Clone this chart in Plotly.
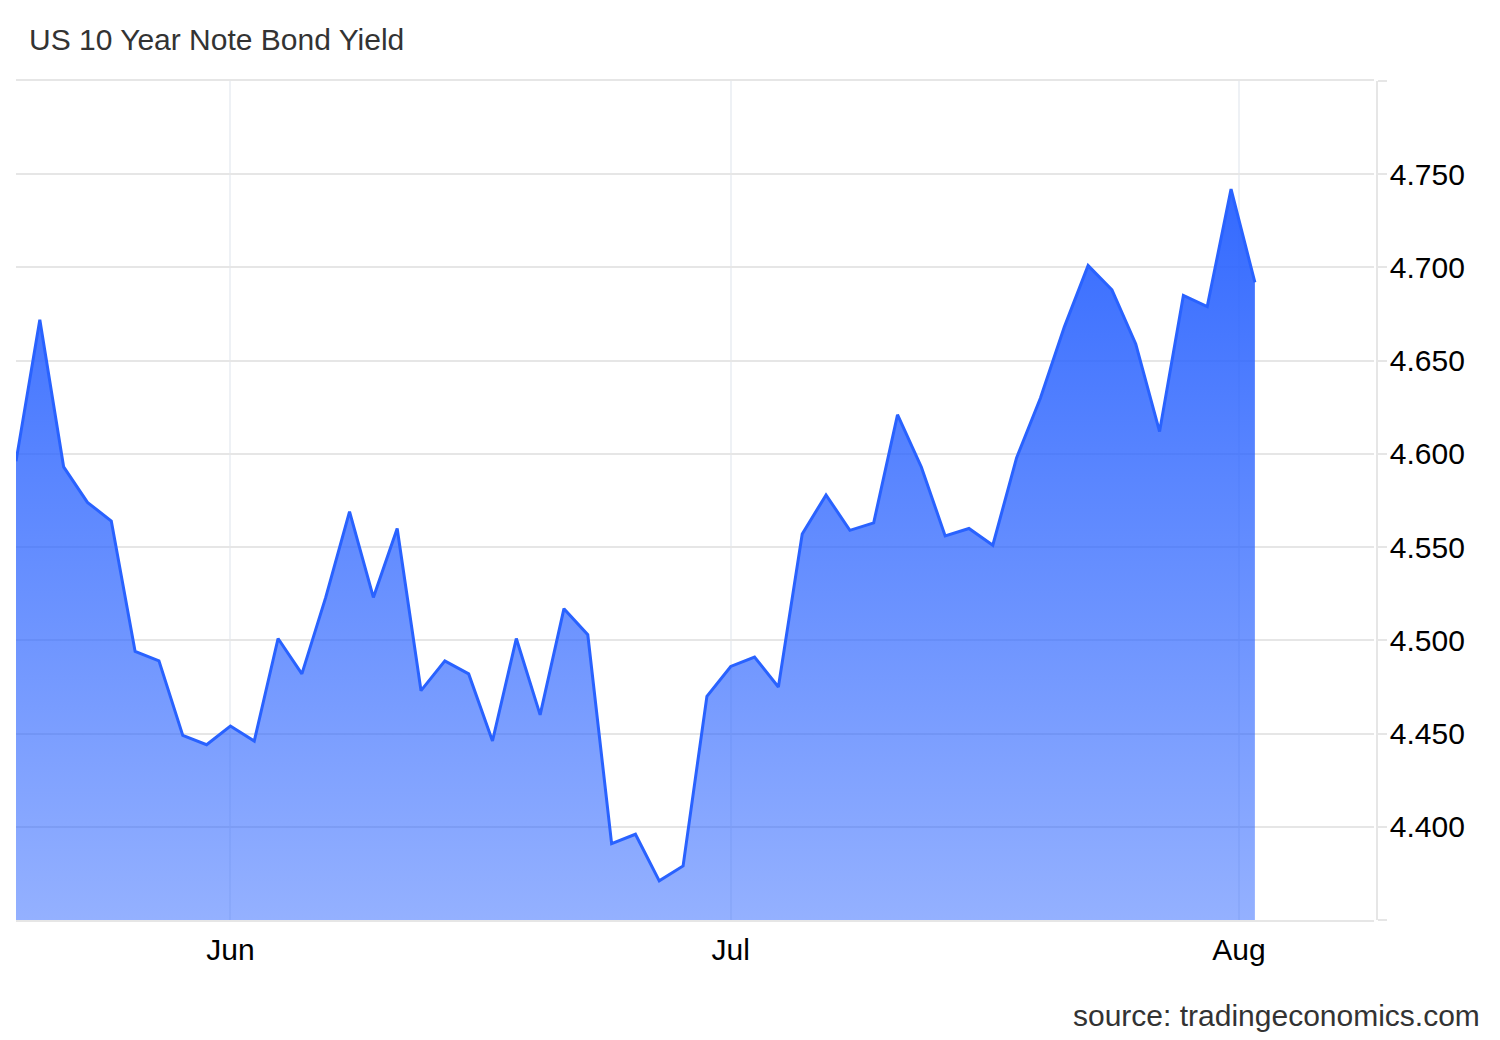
import numpy as np
import pandas as pd
import plotly.graph_objects as go

# trading days only (weekends and US bond holidays are not in the series)
dates = [
    "2026-05-18", "2026-05-19", "2026-05-20", "2026-05-21", "2026-05-22",
    "2026-05-26", "2026-05-27", "2026-05-28", "2026-05-29",
    "2026-06-01", "2026-06-02", "2026-06-03", "2026-06-04", "2026-06-05",
    "2026-06-08", "2026-06-09", "2026-06-10", "2026-06-11", "2026-06-12",
    "2026-06-15", "2026-06-16", "2026-06-17", "2026-06-18",
    "2026-06-22", "2026-06-23", "2026-06-24", "2026-06-25", "2026-06-26",
    "2026-06-29", "2026-06-30", "2026-07-01", "2026-07-02",
    "2026-07-06", "2026-07-07", "2026-07-08", "2026-07-09", "2026-07-10",
    "2026-07-13", "2026-07-14", "2026-07-15", "2026-07-16", "2026-07-17",
    "2026-07-20", "2026-07-21", "2026-07-22", "2026-07-23", "2026-07-24",
    "2026-07-27", "2026-07-28", "2026-07-29", "2026-07-30", "2026-07-31",
    "2026-08-03",
]
yields = [
    4.596, 4.672, 4.593, 4.574, 4.564,
    4.494, 4.489, 4.449, 4.444,
    4.454, 4.446, 4.501, 4.482, 4.523,
    4.569, 4.523, 4.560, 4.473, 4.489,
    4.482, 4.446, 4.501, 4.460,
    4.517, 4.503, 4.391, 4.396, 4.371,
    4.379, 4.470, 4.486, 4.491,
    4.475, 4.557, 4.578, 4.559, 4.563,
    4.621, 4.593, 4.556, 4.560, 4.551,
    4.598, 4.630, 4.668, 4.701, 4.688,
    4.659, 4.612, 4.685, 4.679, 4.742,
    4.692,
]

month_starts = ["2026-06-01", "2026-07-01", "2026-08-01"]
month_labels = ["Jun", "Jul", "Aug"]

y_ticks = [4.35, 4.40, 4.45, 4.50, 4.55, 4.60, 4.65, 4.70, 4.75, 4.80]
y_labels = ["", "4.400", "4.450", "4.500", "4.550", "4.600", "4.650", "4.700", "4.750", ""]

# ordinal x axis: one slot per trading day, month ticks interpolated in time
d = pd.to_datetime(dates)
pos = np.arange(len(d))
tick_pos = np.interp(pd.to_datetime(month_starts).astype("int64"), d.astype("int64"), pos)

FONT = "Liberation Sans, Arial, sans-serif"
BLUE = "#2962ff"
GRID = "#e6e6e6"

fig = go.Figure(go.Scatter(
    x=pos,
    y=yields,
    customdata=dates,
    mode="lines",
    line=dict(color=BLUE, width=3),
    fill="tozeroy",
    fillgradient=dict(
        type="vertical",
        colorscale=[[0, "rgba(41,98,255,0.5)"], [1, "rgba(41,98,255,0.95)"]],
        start=4.35,
        stop=max(yields),
    ),
    hovertemplate="%{customdata}<br>%{y:.3f}<extra></extra>",
))

fig.update_layout(
    width=1500,
    height=1040,
    margin=dict(l=16, r=123, t=81, b=120),
    plot_bgcolor="#ffffff",
    paper_bgcolor="#ffffff",
    showlegend=False,
    font=dict(family=FONT, size=30, color="#000000"),
    title=dict(
        text="US 10 Year Note Bond Yield",
        x=29 / 1500, xref="container", xanchor="left",
        y=1 - 39 / 1040, yref="container", yanchor="middle",
        font=dict(family=FONT, size=30, color="#333333"),
    ),
)

fig.update_xaxes(
    domain=[0, 1358 / 1361],
    range=[0, 57],
    tickvals=tick_pos,
    ticktext=month_labels,
    ticks="",
    ticklabelstandoff=2,
    showgrid=True,
    gridcolor="#eef1f5",
    gridwidth=1.5,
    zeroline=False,
    showline=True,
    mirror=True,
    linecolor=GRID,
    linewidth=1.5,
    tickfont=dict(family=FONT, size=30, color="#000000"),
)

fig.update_yaxes(
    range=[4.35, 4.80],
    side="right",
    anchor="free",
    position=1,
    tickvals=y_ticks,
    ticktext=y_labels,
    ticks="outside",
    ticklen=9,
    tickwidth=1.5,
    tickcolor=GRID,
    ticklabelstandoff=-3,
    showgrid=True,
    gridcolor=GRID,
    gridwidth=1.5,
    zeroline=False,
    showline=True,
    linecolor=GRID,
    linewidth=1.5,
    tickfont=dict(family=FONT, size=30, color="#000000"),
)

fig.add_annotation(
    text="source: tradingeconomics.com",
    xref="paper", yref="paper",
    x=(1482 - 16) / 1361, xanchor="right",
    y=(920 - 1016) / 839, yanchor="middle",
    showarrow=False,
    font=dict(family=FONT, size=30, color="#333333"),
)

fig.write_html(
    "out.html",
    config={"displayModeBar": False},
    post_script="document.body.style.margin='0';",
)
